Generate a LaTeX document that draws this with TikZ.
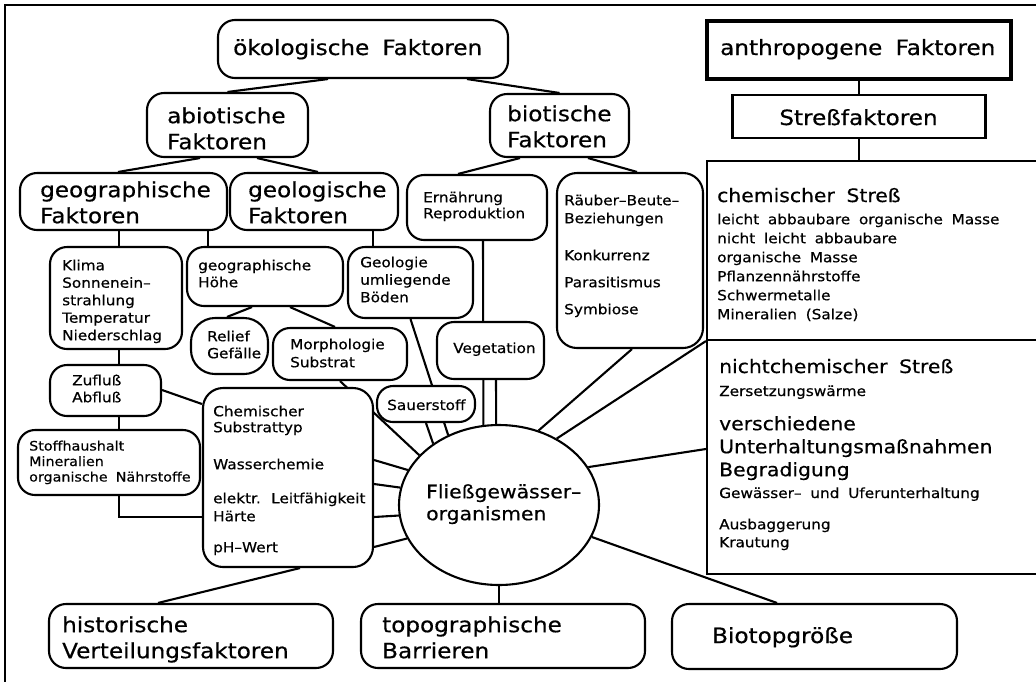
\documentclass[tikz,border=0pt]{standalone}
\usepackage{fontspec}
\usetikzlibrary{backgrounds,shapes.geometric}
\newfontfamily\dvs[FakeStretch=1.1,FakeBold=0.5,WordSpace=1.8]{DejaVu Sans}
\newcommand\fL{\dvs\fontsize{21}{26}\selectfont}
\newcommand\fM{\dvs\fontsize{18.5}{23}\selectfont}
\newcommand\fS{\dvs\fontsize{13.9}{18}\selectfont}
\newcommand\fSs{\dvs\fontsize{13}{18}\selectfont}
\newcommand\tstrut{\rule{0pt}{0.8em}}

\begin{document}
\begin{tikzpicture}[x=1pt,y=-1pt,
  lw/.style={line width=2.1pt},
  rbox/.style={draw, lw, fill=white, rounded corners=#1, inner sep=0pt},
  rbox/.default=17pt,
  sbox/.style={draw, lw, fill=white, inner sep=0pt},
  conn/.style={lw},
  tl/.style={anchor=base west, inner sep=0pt},
  tm/.style={anchor=north west, inner sep=0pt, align=left},
]
\useasboundingbox (0,0) rectangle (1036,681);
\clip (0,0) rectangle (1036,681);

% outer frame
\draw[lw] (5,700) -- (5,5) -- (1060,5);

% ---------- boxes ----------
\node[rbox, minimum width=290pt, minimum height=58pt] (oeko) at (363,49) {};
\node[rbox, minimum width=161pt, minimum height=64pt] (abio) at (227.5,125) {};
\node[rbox, minimum width=139pt, minimum height=63pt] (bio) at (559.5,125.5) {};
\node[rbox, minimum width=207pt, minimum height=57pt] (geogr) at (123.5,201.5) {};
\node[rbox, minimum width=168pt, minimum height=57pt] (geol) at (314,201.5) {};
\node[rbox, minimum width=140pt, minimum height=65pt] (ernae) at (477,207.5) {};
\node[rbox=20pt, minimum width=146pt, minimum height=175pt] (raeub) at (630,260.5) {};
\node[sbox, line width=3.5pt, minimum width=304pt, minimum height=58pt] (anthro) at (859,50) {};
\node[sbox, minimum width=253pt, minimum height=43pt] (stress) at (859,116.5) {};
\node[sbox, minimum width=338pt, minimum height=179pt] (chem) at (876,250.5) {};
\node[sbox, minimum width=338pt, minimum height=234pt] (nchem) at (876,457) {};
\node[rbox, minimum width=132pt, minimum height=102pt] (klima) at (116,298) {};
\node[rbox, minimum width=156pt, minimum height=59pt] (hoehe) at (265,276.5) {};
\node[rbox, minimum width=125pt, minimum height=71pt] (geolo) at (410.5,282.5) {};
\node[rbox=24pt, minimum width=77pt, minimum height=56pt] (relief) at (229.5,346) {};
\node[rbox, minimum width=134pt, minimum height=52pt] (morph) at (340,354) {};
\node[rbox=16pt, minimum width=98pt, minimum height=36pt] (sauer) at (426,404) {};
\node[rbox, minimum width=107pt, minimum height=57pt] (veget) at (490.5,350.5) {};
\node[rbox, minimum width=111pt, minimum height=51pt] (zufl) at (105.5,390.5) {};
\node[rbox, minimum width=182pt, minimum height=65pt] (stoff) at (109,462.5) {};
\node[rbox=20pt, minimum width=170pt, minimum height=179pt] (chsub) at (288,477.5) {};
\node[draw, lw, fill=white, ellipse, minimum width=200pt, minimum height=160pt, inner sep=0pt] (org) at (499,505) {};
\node[rbox, minimum width=284pt, minimum height=64pt] (hist) at (191,636) {};
\node[rbox, minimum width=284pt, minimum height=64pt] (topo) at (503,636) {};
\node[rbox, minimum width=285pt, minimum height=65pt] (biot) at (814.5,636.5) {};

% ---------- texts ----------
\node[tl, font=\fL] (oekot) at (233,55) {ökologische Faktoren};
\node[tm, font=\fL] (abiot) at (167,106.2) {\tstrut abiotische\\Faktoren};
\node[tm, font=\fL] (biott) at (507,104.2) {\tstrut biotische\\Faktoren};
\node[tm, font=\fL] (geogrt) at (40,180.2) {\tstrut geographische\\Faktoren};
\node[tm, font=\fL] (geolt) at (248,180.2) {\tstrut geologische\\Faktoren};
\node[tl, font=\fL] (anthrot) at (720,55) {anthropogene Faktoren};
\node[anchor=base, inner sep=0pt, font=\fL] (stresst) at (858.5,125) {Streßfaktoren};
\node[tm, font=\fL] (histt) at (62,615.2) {\tstrut historische\\Verteilungsfaktoren};
\node[tm, font=\fL] (topot) at (382,615.2) {\tstrut topographische\\Barrieren};
\node[tl, font=\fL] (biotopt) at (712,643) {Biotopgröße};

\node[tl, font=\fM] (chemt) at (717,202) {chemischer Streß};
\node[tm, font=\fS] (chemlist) at (717,212.9) {\tstrut leicht abbaubare organische Masse\\[1pt]nicht leicht abbaubare\\[1pt]organische Masse\\[1pt]Pflanzennährstoffe\\[1pt]Schwermetalle\\[1pt]Mineralien (Salze)};

\node[tl, font=\fM] (nchemt) at (719,373) {nichtchemischer Streß};
\node[tl, font=\fS] (zerst) at (719,396) {Zersetzungswärme};
\node[tm, font=\fM] (unterht) at (719,415.2) {\tstrut verschiedene\\Unterhaltungsmaßnahmen\\Begradigung};
\node[tl, font=\fS] (gewt) at (719,498) {Gewässer– und Uferunterhaltung};
\node[tm, font=\fS] (ausbt) at (719,517.9) {\tstrut Ausbaggerung\\Krautung};

\node[tm, font=\fS] (raeubt) at (564,193.9) {\tstrut Räuber–Beute–\\Beziehungen\\[19pt]Konkurrenz\\[9pt]Parasitismus\\[9pt]Symbiose};
\node[tm, font=\fS] (ernaet) at (423,190.9) {\tstrut Ernährung\\[-2pt]Reproduktion};
\node[tm, font=\fS] (klimat) at (62,258.9) {\tstrut Klima\\[-0.5pt]Sonnenein–\\[-0.5pt]strahlung\\[-0.5pt]Temperatur\\[-0.5pt]Niederschlag};
\node[tm, font=\fS] (hoehet) at (198,258.9) {\tstrut geographische\\[-1pt]Höhe};
\node[tm, font=\fS] (geolot) at (360,255.9) {\tstrut Geologie\\[-0.5pt]umliegende\\[-0.5pt]Böden};
\node[tm, font=\fS] (relieft) at (207,329.9) {\tstrut Relief\\[-1pt]Gefälle};
\node[tm, font=\fS] (morpht) at (290,337.9) {\tstrut Morphologie\\Substrat};
\node[tl, font=\fS] (sauert) at (387,410) {Sauerstoff};
\node[tl, font=\fS] (veget-t) at (453,353) {Vegetation};
\node[tm, font=\fS] (zuflt) at (72,373.9) {\tstrut Zufluß\\[-1pt]Abfluß};
\node[tm, font=\fSs] (stofft) at (29,439.9) {\tstrut Stoffhaushalt\\[-2.5pt]Mineralien\\[-2.5pt]organische Nährstoffe};
\node[tm, font=\fS] (chsubt) at (213,404.9) {\tstrut Chemischer\\[-2pt]Substrattyp\\[19pt]Wasserchemie\\[16pt]elektr. Leitfähigkeit\\Härte\\[13pt]pH–Wert};
\node[tm, font=\fM] (orgt) at (426,483.2) {\tstrut Fließgewässer–\\[-1pt]organismen};

% guide positions for the orthogonal connectors
\coordinate (vA) at (119,0);
\coordinate (vC) at (208,0);
\coordinate (vD) at (373,0);
\coordinate (hB) at (0,517);

% ---------- connectors ----------
\begin{scope}[on background layer]
\draw[conn] ([xshift=-35pt]oeko.south) -- (abio.north);
\draw[conn] ([xshift=104pt]oeko.south) -- (bio.north);
\draw[conn] ([xshift=-27.5pt]abio.south) -- ([xshift=-5.5pt]geogr.north);
\draw[conn] ([xshift=29.5pt]abio.south) -- ([xshift=4pt]geol.north);
\draw[conn] ([xshift=-39.5pt]bio.south) -- ([xshift=-19pt]ernae.north);
\draw[conn] ([xshift=28.5pt]bio.south) -- ([xshift=7pt]raeub.north);
\draw[conn] (anthro.south) -- (stress.north);
\draw[conn] (stress.south) -- (stress.south |- chem.north);

\draw[conn] (geogr.south -| vA) -- (klima.north -| vA);
\draw[conn] (klima.south -| vA) -- (zufl.north -| vA);
\draw[conn] (zufl.south -| vA) -- (stoff.north -| vA);
\draw[conn] (stoff.south -| vA) |- (chsub.west |- hB);
\draw[conn] (geogr.south -| vC) -- (hoehe.north -| vC);
\draw[conn] (geol.south -| vD) -- (geolo.north -| vD);

\draw[conn] ([xshift=-13pt]hoehe.south) -- ([xshift=-2.5pt]relief.north);
\draw[conn] ([xshift=25pt]hoehe.south) -- ([xshift=-5pt]morph.north);
\draw[conn] ([yshift=0.5pt]zufl.east) -- ([yshift=73.5pt]chsub.west);
\draw[conn] ([xshift=12pt]chsub.south) -- ([xshift=-33pt]hist.north);

% everything that meets the central ellipse
\draw[conn] (morph.south) -- (org.148.3);
\draw[conn] (geolo.south) -- (org.126.5);
\draw[conn] (sauer.south) -- (org.137.7);
\draw[conn] ([xshift=6pt]ernae.south) -- (org.101.5);
\draw[conn] ([xshift=5.5pt]veget.south) -- (org.92.1);
\draw[conn] ([xshift=2pt]raeub.south) -- (org.62.2);
\draw[conn] (chem.south west) -- (org.49.1);
\draw[conn] ([yshift=8pt]nchem.west) -- (org.23.4);
\draw[conn] (org.-19.9) -- ([xshift=-37.5pt]biot.north);
\draw[conn] (org.south) -- (org.south |- topo.north);
\draw[conn] ([yshift=17.5pt]chsub.east) -- (org.159.7);
\draw[conn] ([yshift=-6.5pt]chsub.east) -- (org.170.3);
\draw[conn] ([yshift=-39.5pt]chsub.east) -- (org.186.9);
\draw[conn] ([yshift=-69.5pt]chsub.east) -- (org.200.3);
\end{scope}
\end{tikzpicture}
\end{document}
